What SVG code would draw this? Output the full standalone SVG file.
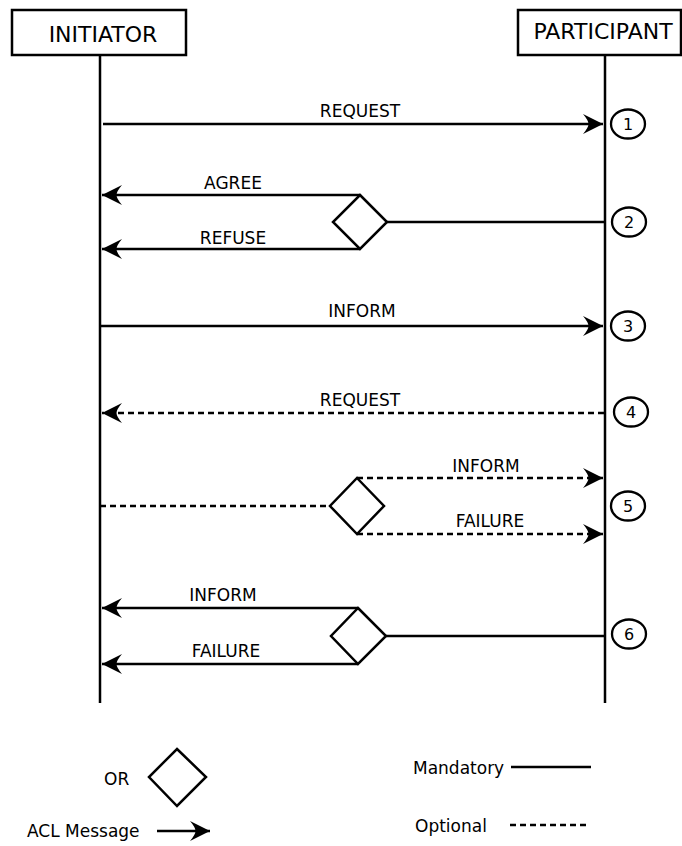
<svg xmlns="http://www.w3.org/2000/svg" width="682" height="846" viewBox="0 0 682 846">
<defs>
<marker id="ah" markerUnits="userSpaceOnUse" markerWidth="26" markerHeight="26" viewBox="-22 -13 26 26" refX="0" refY="0" orient="auto">
<path d="M0,0 L-20,-10 Q-14.5,-3.5 -14.5,0 Q-14.5,3.5 -20,10 Z" fill="#000"/>
</marker>
<style>
.box{fill:#fff;stroke:#000;stroke-width:2.5}
.life{stroke:#000;stroke-width:2.5;fill:none}
.msg{stroke:#000;stroke-width:2.5;fill:none}
.opt{stroke-dasharray:6 4}
.dia{fill:#fff;stroke:#000;stroke-width:2.5}
.num{fill:#fff;stroke:#000;stroke-width:2.3}
text{font-family:"DejaVu Sans","Liberation Sans",sans-serif;fill:#000}
.lbl{font-size:17px;text-anchor:middle}
.title{font-size:22px;text-anchor:middle}
.n{font-size:16px;text-anchor:middle}
.leg{font-size:17px}
</style>
</defs>
<rect width="682" height="846" fill="#fff"/>
<g id="initiator">
<rect class="box" x="12" y="10" width="174" height="45"/>
<text class="title" x="103" y="41.5">INITIATOR</text>
<line class="life" x1="100" y1="55" x2="100" y2="703"/>
</g>
<g id="participant">
<rect class="box" x="518" y="10" width="163" height="45"/>
<text class="title" x="603" y="39">PARTICIPANT</text>
<line class="life" x1="605" y1="55" x2="605" y2="703"/>
</g>
<g id="or1"><path class="dia" d="M360,195 L387,222 L360,249 L333,222 Z"/></g>
<g id="or2"><path class="dia" d="M357,478 L384,506 L357,534 L330,506 Z"/></g>
<g id="or3"><path class="dia" d="M358,608 L386,636 L358,664 L331,636 Z"/></g>
<g id="connectors">
<line class="msg" x1="103" y1="124" x2="603" y2="124" marker-end="url(#ah)"/>
<text class="lbl" x="360" y="116.5">REQUEST</text>
<line class="msg" x1="360" y1="195" x2="102" y2="195" marker-end="url(#ah)"/>
<text class="lbl" x="233" y="189">AGREE</text>
<line class="msg" x1="360" y1="249" x2="102" y2="249" marker-end="url(#ah)"/>
<text class="lbl" x="233" y="244">REFUSE</text>
<line class="msg" x1="387" y1="222" x2="605" y2="222"/>
<line class="msg" x1="100" y1="326" x2="603" y2="326" marker-end="url(#ah)"/>
<text class="lbl" x="362" y="317">INFORM</text>
<line class="msg opt" x1="604" y1="413" x2="102" y2="413" marker-end="url(#ah)"/>
<text class="lbl" x="360" y="406">REQUEST</text>
<line class="msg opt" x1="100" y1="506" x2="330" y2="506"/>
<line class="msg opt" x1="357" y1="478" x2="603" y2="478" marker-end="url(#ah)"/>
<text class="lbl" x="486" y="472">INFORM</text>
<line class="msg opt" x1="357" y1="534" x2="603" y2="534" marker-end="url(#ah)"/>
<text class="lbl" x="490" y="527">FAILURE</text>
<line class="msg" x1="358" y1="608" x2="102" y2="608" marker-end="url(#ah)"/>
<text class="lbl" x="223" y="601">INFORM</text>
<line class="msg" x1="358" y1="664" x2="102" y2="664" marker-end="url(#ah)"/>
<text class="lbl" x="226" y="657">FAILURE</text>
<line class="msg" x1="386" y1="636" x2="605" y2="636"/>
</g>
<g id="step1"><ellipse class="num" cx="628" cy="124" rx="17" ry="14.5"/><text class="n" x="628" y="130">1</text></g>
<g id="step2"><ellipse class="num" cx="629" cy="222" rx="17" ry="14.5"/><text class="n" x="629" y="228">2</text></g>
<g id="step3"><ellipse class="num" cx="628" cy="326" rx="17" ry="14.5"/><text class="n" x="628" y="332">3</text></g>
<g id="step4"><ellipse class="num" cx="631" cy="412" rx="17" ry="14.5"/><text class="n" x="631" y="418">4</text></g>
<g id="step5"><ellipse class="num" cx="628" cy="506" rx="17" ry="14.5"/><text class="n" x="628" y="512">5</text></g>
<g id="step6"><ellipse class="num" cx="629" cy="634" rx="17" ry="14.5"/><text class="n" x="629" y="640">6</text></g>
<g id="legend">
<text class="leg" x="104" y="785">OR</text>
<path class="dia" d="M177,749 L206,777 L177,806 L149,777 Z"/>
<text class="leg" x="27" y="837">ACL Message</text>
<line class="msg" x1="157" y1="831" x2="210" y2="831" marker-end="url(#ah)"/>
<text class="leg" x="413" y="774">Mandatory</text>
<line class="msg" x1="511" y1="767" x2="591" y2="767"/>
<text class="leg" x="415" y="832">Optional</text>
<line class="msg opt" x1="510" y1="825" x2="590" y2="825"/>
</g>
</svg>
